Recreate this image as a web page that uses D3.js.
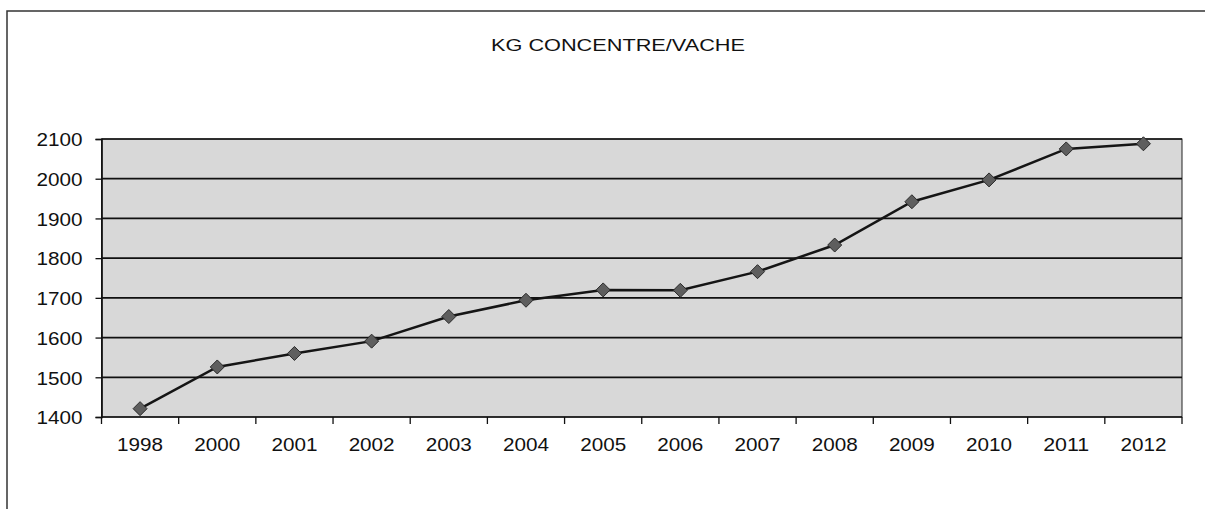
<!DOCTYPE html>
<html><head><meta charset="utf-8">
<script src="https://cdn.jsdelivr.net/npm/d3@7/dist/d3.min.js"></script>
<style>body{margin:0;background:#fff}svg{display:block}</style>
</head><body>
<script>
const title = "KG CONCENTRE/VACHE";
const years = ["1998","2000","2001","2002","2003","2004","2005","2006","2007","2008","2009","2010","2011","2012"];
const values = [1421,1526,1560,1591,1653,1694,1720,1719,1766,1833,1942,1997,2075,2088];
const yTicks = [1400,1500,1600,1700,1800,1900,2000,2100];

const W = 1205, H = 509;
const svg = d3.select("body").append("svg").attr("width", W).attr("height", H);

// outer chart border (only top and left visible)
svg.append("path").attr("d", "M1210,11 H7 V520").attr("fill","none").attr("stroke","#333").attr("stroke-width",1.5);

svg.append("text").attr("x", 618).attr("y", 51).attr("text-anchor","middle")
  .attr("font-family","Liberation Sans, Arial, sans-serif").attr("font-size",16.5)
  .attr("textLength",254).attr("lengthAdjust","spacingAndGlyphs").attr("fill","#111").text(title);

const pL = 101.5, pR = 1182, pT = 139, pB = 417;
const x = d3.scaleBand().domain(years).range([pL, pR]).padding(0);
const y = d3.scaleLinear().domain([1400, 2100]).range([pB, pT]);

// plot background
svg.append("rect").attr("x", pL).attr("y", pT).attr("width", pR-pL).attr("height", pB-pT)
  .attr("fill","#d8d8d8").attr("stroke","#222").attr("stroke-width",1);

// gridlines
svg.append("g").selectAll("line").data(yTicks.filter(d => d > 1400)).join("line")
  .attr("x1", pL).attr("x2", pR).attr("y1", d => y(d)).attr("y2", d => y(d))
  .attr("stroke","#111").attr("stroke-width",1.7);

const font = "Liberation Sans, Arial, sans-serif";

// y axis
const yAxis = svg.append("g").attr("transform", `translate(${pL},0)`)
  .call(d3.axisLeft(y).tickValues(yTicks).tickSize(6).tickPadding(13).tickFormat(d3.format("d")));
yAxis.select(".domain").attr("stroke","#111").attr("stroke-width",1.7);
yAxis.selectAll(".tick line").attr("stroke","#111").attr("stroke-width",1.3);
yAxis.selectAll("text").attr("font-family", font).attr("font-size",19).attr("fill","#111")
  .attr("textLength",46).attr("lengthAdjust","spacingAndGlyphs").attr("dy","0.36em");

// x axis with ticks between categories
const xAxis = svg.append("g").attr("transform", `translate(0,${pB})`);
xAxis.append("line").attr("x1", pL).attr("x2", pR).attr("stroke","#111").attr("stroke-width",1.7);
const edges = years.map(d => x(d)).concat([pR]);
xAxis.selectAll("line.tk").data(edges).join("line").attr("class","tk")
  .attr("x1", d => d).attr("x2", d => d).attr("y1", 0).attr("y2", 7)
  .attr("stroke","#111").attr("stroke-width",1.3);
xAxis.selectAll("text").data(years).join("text")
  .attr("x", d => x(d) + x.bandwidth()/2).attr("y", 34).attr("text-anchor","middle")
  .attr("font-family", font).attr("font-size",19).attr("fill","#111")
  .attr("textLength",46).attr("lengthAdjust","spacingAndGlyphs").text(d => d);

// line
const line = d3.line().x((d,i) => x(years[i]) + x.bandwidth()/2).y(d => y(d));
svg.append("path").datum(values).attr("d", line).attr("fill","none").attr("stroke","#151515").attr("stroke-width",2.5);

// diamond markers
svg.append("g").selectAll("path").data(values).join("path")
  .attr("transform", (d,i) => `translate(${x(years[i]) + x.bandwidth()/2},${y(d)})`)
  .attr("d", "M0,-7 L7,0 L0,7 L-7,0 Z")
  .attr("fill","#5e5e5e").attr("stroke","#2a2a2a").attr("stroke-width",1);
</script>
</body></html>
